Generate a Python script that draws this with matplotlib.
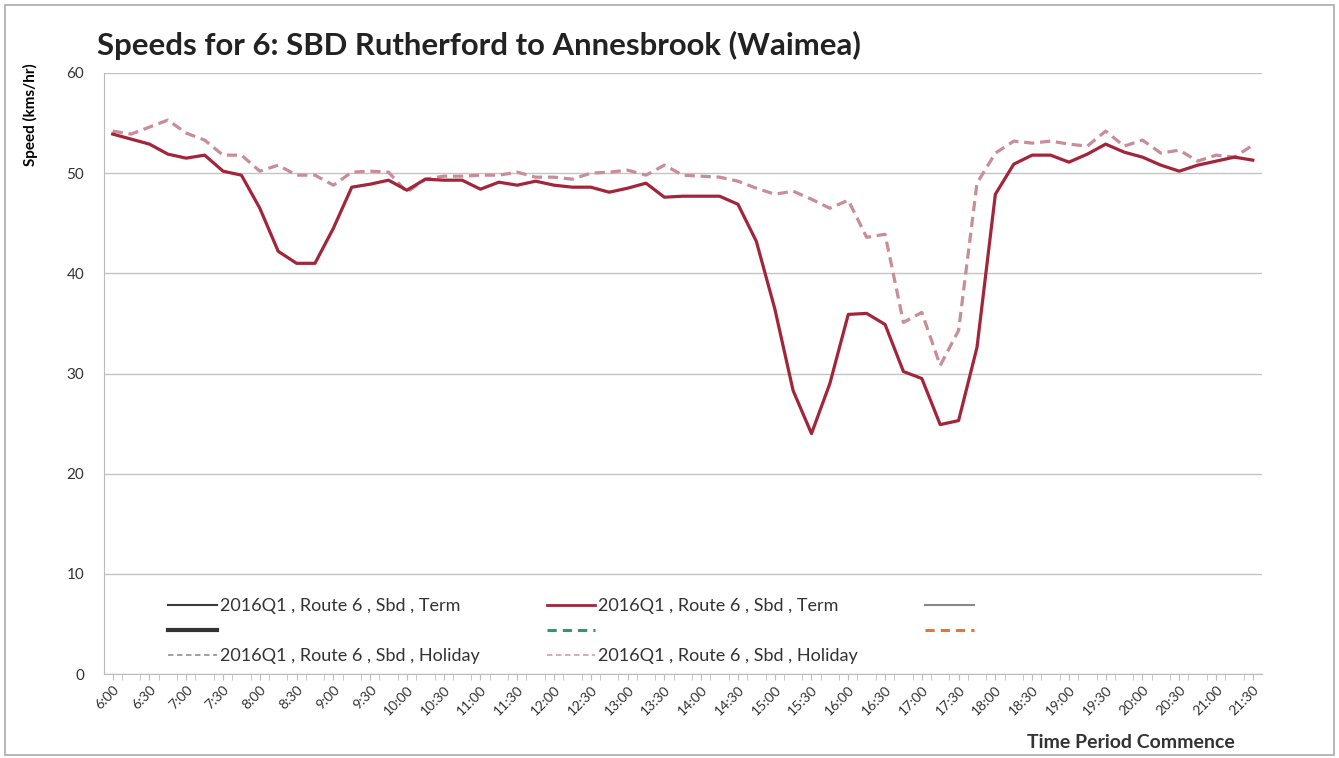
import matplotlib as mpl
mpl.use('Agg')
import matplotlib.pyplot as plt
from matplotlib.lines import Line2D
from matplotlib.patches import Rectangle

plt.rcParams['font.family'] = ['Lato', 'DejaVu Sans']

# 15 minute periods, 6:00 .. 21:30
periods = [f"{6 + q // 4}:{(q % 4) * 15:02d}" for q in range(63)]

term_speed = [
    53.9, 53.4, 52.9, 51.9, 51.5, 51.8, 50.2, 49.8, 46.5, 42.2,
    41.0, 41.0, 44.5, 48.6, 48.9, 49.3, 48.3, 49.4, 49.3, 49.3,
    48.4, 49.1, 48.8, 49.2, 48.8, 48.6, 48.6, 48.1, 48.5, 49.0,
    47.6, 47.7, 47.7, 47.7, 46.9, 43.2, 36.5, 28.3, 24.0, 29.0,
    35.9, 36.0, 34.9, 30.2, 29.5, 24.9, 25.3, 32.6, 47.9, 50.9,
    51.8, 51.8, 51.1, 51.9, 52.9, 52.1, 51.6, 50.8, 50.2, 50.8,
    51.2, 51.6, 51.3,
]

holiday_speed = [
    54.2, 53.9, 54.6, 55.3, 54.0, 53.3, 51.8, 51.8, 50.2, 50.8,
    49.8, 49.8, 48.8, 50.1, 50.2, 50.1, 48.1, 49.4, 49.7, 49.7,
    49.8, 49.8, 50.1, 49.6, 49.6, 49.4, 50.0, 50.1, 50.3, 49.8,
    50.8, 49.8, 49.7, 49.6, 49.2, 48.5, 47.9, 48.2, 47.4, 46.5,
    47.3, 43.6, 43.9, 35.1, 36.1, 30.8, 34.3, 49.0, 52.0, 53.2,
    53.0, 53.2, 52.9, 52.7, 54.2, 52.7, 53.3, 52.0, 52.3, 51.2,
    51.8, 51.6, 52.8,
]

x = list(range(len(periods)))

fig = plt.figure(figsize=(13.39, 7.58), dpi=100)
ax = fig.add_axes([0.0773, 0.1108, 0.9425 - 0.0773, 0.9037 - 0.1108])

ax.plot(x, holiday_speed, color='#C98C99', lw=2.3, ls=(0, (3.2, 1.8)))
ax.plot(x, term_speed, color='#A2253A', lw=2.3)

ax.set_xlim(-0.5, len(periods) - 0.5)
ax.set_ylim(0, 60)
ax.set_yticks(range(0, 61, 10))
ax.yaxis.grid(True, color='#C4C4C4', lw=1)
ax.set_axisbelow(True)
ax.tick_params(axis='y', length=0, labelsize=11, colors='#333333', pad=14)

ax.set_xticks(x[::2])
ax.set_xticklabels(periods[::2], rotation=45, ha='right', rotation_mode='anchor',
                   fontsize=10, color='#333333')
ax.set_xticks([i + 0.5 for i in x[:-1]], minor=True)
ax.tick_params(axis='x', which='both', length=4, color='#BBBBBB', pad=3)

for s in ['top', 'right']:
    ax.spines[s].set_visible(False)
ax.spines['left'].set_color('#BBBBBB')
ax.spines['bottom'].set_color('#BBBBBB')

fig.text(97 / 1339, 1 - 45 / 758, 'Speeds for 6: SBD Rutherford to Annesbrook (Waimea)',
         fontsize=22.4, fontweight='bold', color='#222222', va='center', ha='left')
fig.text(30 / 1339, 1 - 115 / 758, 'Speed (kms/hr)', rotation=90, fontsize=11,
         fontweight='bold', va='center', ha='center')
fig.text(1235 / 1339, 1 - 743 / 758, 'Time Period Commence', fontsize=14,
         fontweight='bold', color='#333333', va='center', ha='right')

handles = [
    Line2D([], [], color='#3A3A3A', lw=1.5),
    Line2D([], [], color='#333333', lw=3),
    Line2D([], [], color='#999999', lw=1.3, ls=(0, (3, 2))),
    Line2D([], [], color='#A2253A', lw=2),
    Line2D([], [], color='#2E9A6A', lw=2.2, ls=(0, (3, 2))),
    Line2D([], [], color='#D9A2AD', lw=1.3, ls=(0, (3, 2))),
    Line2D([], [], color='#888888', lw=1.5),
    Line2D([], [], color='#E8762A', lw=2.2, ls=(0, (3, 2))),
]
labels = [
    '2016Q1 , Route 6 , Sbd , Term', '', '2016Q1 , Route 6 , Sbd , Holiday',
    '2016Q1 , Route 6 , Sbd , Term', '', '2016Q1 , Route 6 , Sbd , Holiday',
    '', '',
]
leg = fig.legend(handles, labels, ncol=3, loc='upper left',
                 bbox_to_anchor=(152 / 1339, 1 - 582 / 758), frameon=False,
                 fontsize=13, handlelength=2.7, handletextpad=0.17,
                 columnspacing=3.7, labelspacing=0.49)
for t in leg.get_texts():
    t.set_color('#333333')

fig.patches.append(Rectangle((0.004, 0.004), 0.992, 0.99, transform=fig.transFigure,
                             fill=False, edgecolor='#AAAAAA', lw=1.2))

plt.savefig('out.png', dpi=100)
